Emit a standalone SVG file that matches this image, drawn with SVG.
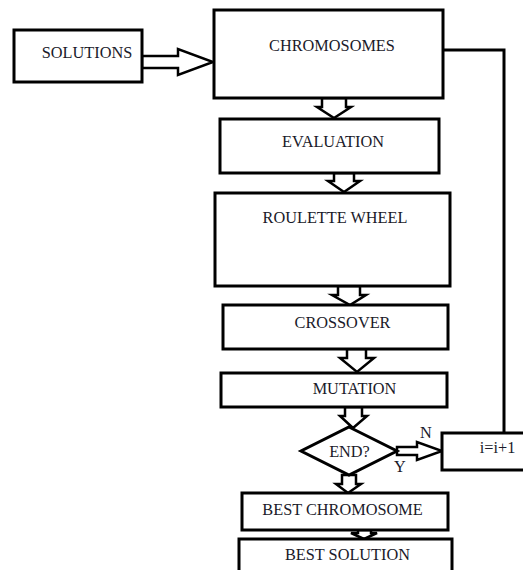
<svg xmlns="http://www.w3.org/2000/svg" width="523" height="570" viewBox="0 0 523 570">
<style>
.box{fill:#fff;stroke:#000;stroke-width:3}
.arr{fill:#fff;stroke:#000;stroke-width:2.5;stroke-linejoin:miter}
.line{fill:none;stroke:#000;stroke-width:3}
text{font-family:"Liberation Serif","Times New Roman",serif;font-size:16.3px;fill:#1a1a2a;text-anchor:middle}
</style>
<rect width="523" height="570" fill="#fff"/>
<g id="connectors">
<polyline class="line" points="443,50 504,50 504,433"/>
<polygon class="arr" points="142,56 178,56 178,49 213,62 178,75 178,68 142,68"/>
<polygon class="arr" points="322,98 346,98 346,107 351,107 334,118 317,107 322,107"/>
<polygon class="arr" points="334,173 354,173 354,181 360,181 344,192 328,181 334,181"/>
<polygon class="arr" points="338,286 360,286 360,295 366,295 350,305 332,295 338,295"/>
<polygon class="arr" points="347,349 366,349 366,358 374,358 357,372 340,358 347,358"/>
<polygon class="arr" points="345,407 362,407 362,416 367,416 353,428 340,416 345,416"/>
<polygon class="arr" points="342,475 356,475 356,484 361,484 348,493 336,484 342,484"/>
<polygon class="arr" points="358,530 371,530 371,533 377,533 364,539 351,533 358,533"/>
<polygon class="arr" points="397,447 417,447 417,442 442,451 417,460 417,455 397,455"/>
<text x="426" y="438">N</text>
<text x="400" y="472">Y</text>
</g>
<g id="solutions"><rect class="box" x="14" y="30" width="128" height="52"/><text x="87" y="58">SOLUTIONS</text></g>
<g id="chromosomes"><rect class="box" x="214" y="10" width="229" height="88"/><text x="332" y="51">CHROMOSOMES</text></g>
<g id="evaluation"><rect class="box" x="220" y="119" width="219" height="54"/><text x="333" y="147">EVALUATION</text></g>
<g id="roulette"><rect class="box" x="215" y="193" width="235" height="93"/><text x="335" y="223">ROULETTE WHEEL</text></g>
<g id="crossover"><rect class="box" x="223" y="305" width="225" height="44"/><text x="342.5" y="328">CROSSOVER</text></g>
<g id="mutation"><rect class="box" x="221" y="373" width="226" height="34"/><text x="354.5" y="394">MUTATION</text></g>
<g id="end"><polygon class="box" points="349,427 397,451 349,475 301,451"/><text x="349.5" y="457">END?</text></g>
<g id="incr"><rect class="box" x="442" y="433" width="90" height="37"/><text x="497.5" y="453">i=i+1</text></g>
<g id="bestchrom"><rect class="box" x="242" y="493" width="206" height="37"/><text x="342.5" y="515">BEST CHROMOSOME</text></g>
<g id="bestsol"><rect class="box" x="239" y="539" width="213" height="40"/><text x="347.5" y="560">BEST SOLUTION</text></g>
</svg>
